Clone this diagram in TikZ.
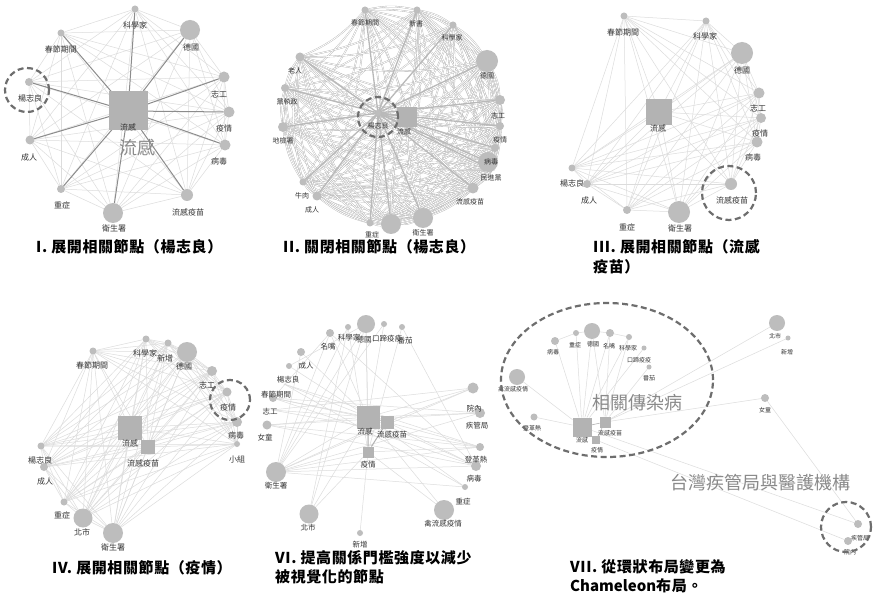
\documentclass[tikz,border=0pt]{standalone}
\usepackage{fontspec}
\newfontfamily\cjk{Noto Sans CJK TC}
\newfontfamily\cjkcap[LetterSpace=4]{Noto Sans CJK TC}
\usetikzlibrary{calc,shapes.geometric}
\pgfdeclarelayer{back}\pgfdeclarelayer{bg}\pgfsetlayers{back,bg,main}
\definecolor{dotc}{HTML}{BDBDBD}
\definecolor{sqc}{HTML}{B3B3B3}
\definecolor{litec}{HTML}{DCDCDC}
\definecolor{darkc}{HTML}{8C8C8C}
\definecolor{dashc}{HTML}{6E6E6E}
\definecolor{labc}{HTML}{333333}
\definecolor{bigc}{HTML}{8A8A8A}
\definecolor{netc}{HTML}{B0B0B0}
\tikzset{
 dot/.style={circle,fill=dotc,inner sep=0pt,outer sep=0pt},
 sqr/.style={rectangle,fill=sqc,inner sep=0pt,outer sep=0pt},
 lab/.style={text=labc,inner sep=0pt,font=\cjk\fontsize{8}{8}\selectfont},
 lite/.style={draw=litec,line width=0.5pt},
 dark/.style={draw=darkc,line width=1pt},
 net/.style={draw=netc,line width=0.35pt,double=white,double distance=0.8pt},
 heavy/.style={draw=gray!55,line width=1.3pt},
 ring/.style={draw=dashc,line width=2.2pt,dash pattern=on 6pt off 3.5pt,inner sep=0pt},
 capt/.style={anchor=west,inner sep=0pt,font=\cjkcap\bfseries\fontsize{15}{15}\selectfont},
 big/.style={text=bigc,inner sep=0pt,font=\cjk\fontsize{18}{18}\selectfont},
}
\newcommand\mkdot[7]{\node[dot,minimum size=#4pt] (#1) at (#2,#3) {};\node[lab] (#1t) at (#5,#6) {#7};}
\newcommand\mksq[7]{\node[sqr,minimum size=#4pt] (#1) at (#2,#3) {};\node[lab] (#1t) at (#5,#6) {#7};}
\begin{document}
\begin{tikzpicture}[x=1pt,y=-1pt]
\begin{pgfonlayer}{back}
\fill[white] (0,0) rectangle (876,596);
\end{pgfonlayer}
\useasboundingbox (0,0) rectangle (876,596);

% ---------------- Panel I
\mkdot{A1}{135}{9}{7}{135}{25}{科學家}
\mkdot{A2}{190}{30}{20}{191}{47}{德國}
\mkdot{A3}{224}{77}{11}{219}{94}{志工}
\mkdot{A4}{229}{112}{11}{224}{128}{疫情}
\mkdot{A5}{225}{145}{11}{219}{161}{病毒}
\mkdot{A6}{187}{195}{12}{188}{212}{流感疫苗}
\mkdot{A7}{113}{213}{20}{114}{228}{衛生署}
\mkdot{A8}{61}{189}{8}{62}{205}{重症}
\mkdot{A9}{30}{140}{9}{29}{157}{成人}
\mkdot{A10}{29}{82}{8}{30}{98}{楊志良}
\mkdot{A11}{61}{33}{7}{61}{49}{春節期間}
\mksq{A0}{128}{111}{39}{128}{127}{流感}
\node[big] (A0b) at (137,148) {流感};
\node[ring,circle,minimum size=44pt] (A10r) at (27,90) {};
\begin{pgfonlayer}{bg}
\foreach \i in {1,...,11}{\foreach \j in {1,...,11}{\ifnum\i<\j\relax \draw[lite] (A\i)--(A\j);\fi}}
\foreach \i in {1,...,11}{\draw[dark] (A0.center)--(A\i);}
\end{pgfonlayer}
\node[capt] (capI) at (36,247) {I. 展開相關節點（楊志良）};

% ---------------- Panel II
\begin{scope}[lab/.append style={font=\cjk\fontsize{7}{7}\selectfont}]
\mkdot{B1}{365}{10}{7}{365}{23}{春節期間}
\mkdot{B2}{417}{10}{7}{416}{24}{新書}
\mkdot{B3}{453}{25}{7}{452}{38}{科學家}
\mkdot{B4}{487}{61}{22}{487}{76}{德國}
\mkdot{B5}{500}{100}{10}{498}{116}{志工}
\mkdot{B6}{500}{126}{8}{500}{140}{疫情}
\mkdot{B7}{495}{148}{8}{495}{148}{}
\mkdot{B8}{488}{162}{20}{491}{162}{病毒}
\coordinate (B9) at (492,170);
\node[lab] (B9t) at (491,178) {民進黨};
\mkdot{B10}{473}{188}{11}{470}{202}{流感疫苗}
\mkdot{B11}{423}{218}{20}{423}{233}{衛生署}
\mkdot{B12}{391}{224}{20}{391}{224}{}
\mkdot{B13}{370}{223}{7}{372}{235}{重症}
\mkdot{B14}{317}{196}{9}{302}{196}{牛肉}
\mkdot{B15}{303}{182}{7}{303}{182}{}
\node[lab] (B14s) at (312,210) {成人};
\mkdot{B16}{283}{127}{10}{283}{141}{地檢署}
\mkdot{B17}{285}{88}{8}{287}{102}{黨執政}
\mkdot{B18}{300}{57}{9}{295}{71}{老人}
\mkdot{BY}{378}{113}{6}{378}{126}{楊志良}
\mksq{B0}{407}{117}{20}{404}{132}{流感}
\end{scope}
\node[ring,circle,minimum size=40pt] (BYr) at (378,117) {};
\begin{pgfonlayer}{bg}
\foreach \i in {1,...,18}{\foreach \j in {1,...,18}{\ifnum\i<\j\relax \draw[net] (B\i) to[bend left=12] (B\j);\fi}}
\foreach \i in {1,...,18}{\draw[net] (B0) to[bend right=8] (B\i);}
\foreach \i in {1,...,18}{\draw[heavy] (BY.center)--(B\i);}
\draw[heavy] (BY.center)--(B0);
\end{pgfonlayer}
\node[capt] (capII) at (283,247) {II. 關閉相關節點（楊志良）};

% ---------------- Panel III
\mkdot{C1}{624}{16}{7}{623}{32}{春節期間}
\mkdot{C2}{706}{21}{7}{705}{36}{科學家}
\mkdot{C3}{742}{53}{22}{742}{70}{德國}
\mkdot{C4}{759}{93}{11}{758}{108}{志工}
\mkdot{C5}{761}{118}{10}{760}{133}{疫情}
\mkdot{C6}{757}{142}{11}{753}{157}{病毒}
\mkdot{C7}{731}{184}{12}{732}{200}{流感疫苗}
\mkdot{C8}{679}{212}{22}{680}{228}{衛生署}
\mkdot{C9}{627}{210}{8}{627}{227}{重症}
\mkdot{C10}{572}{168}{7}{572}{183}{楊志良}
\mkdot{C11}{587}{184}{8}{589}{200}{成人}
\mksq{C12}{659}{112}{26}{658}{128}{流感}
\node[ring,circle,minimum size=54pt] (C7r) at (729,193) {};
\begin{pgfonlayer}{bg}
\foreach \i in {1,...,12}{\foreach \j in {1,...,12}{\ifnum\i<\j\relax \draw[lite] (C\i)--(C\j);\fi}}
\end{pgfonlayer}
\node[capt] (capIIIa) at (593,247) {III. 展開相關節點（流感};
\node[capt] (capIIIb) at (593,267) {疫苗）};

% ---------------- Panel IV
\mkdot{D1}{146}{339}{7}{145}{353}{科學家}
\mkdot{D2}{168}{343}{7}{165}{358}{新增}
\mkdot{D3}{187}{352}{20}{184}{366}{德國}
\mkdot{D4}{93}{351}{7}{92}{365}{春節期間}
\mkdot{D5}{212}{371}{10}{207}{385}{志工}
\mkdot{D6}{227}{392}{9}{228}{407}{疫情}
\mkdot{D7}{237}{422}{10}{236}{435}{病毒}
\mkdot{D8}{237}{444}{6}{237}{459}{小組}
\mkdot{D9}{41}{446}{7}{40}{460}{楊志良}
\mkdot{D10}{44}{467}{8}{45}{481}{成人}
\mkdot{D11}{64}{502}{7}{62}{515}{重症}
\mkdot{D12}{83}{518}{19}{82}{532}{北市}
\mkdot{D13}{113}{533}{20}{113}{547}{衛生署}
\mksq{D14}{130}{428}{24}{130}{443}{流感}
\mksq{D15}{148}{447}{14}{143}{463}{流感疫苗}
\node[ring,circle,minimum size=40pt] (D6r) at (230,400) {};
\begin{pgfonlayer}{bg}
\foreach \i in {1,...,15}{\foreach \j in {1,...,15}{\ifnum\i<\j\relax \draw[lite] (D\i)--(D\j);\fi}}
\end{pgfonlayer}
\node[capt] (capIV) at (52,568) {IV. 展開相關節點（疫情）};

% ---------------- Panel VI
\begin{scope}[lab/.append style={font=\cjk\fontsize{7.5}{7.5}\selectfont}]
\mkdot{E1}{330}{333}{8}{328}{347}{名嘴}
\mkdot{E2}{348}{327}{6}{349}{338}{科學家}
\mkdot{E3}{366}{324}{18}{364}{340}{德國}
\mkdot{E4}{384}{324}{6}{387}{339}{口蹄疫疫}
\mkdot{E5}{402}{327}{6}{405}{341}{番茄}
\mkdot{E6}{301}{352}{8}{301}{352}{}
\mkdot{E7}{289}{366}{6}{306}{366}{成人}
\coordinate (E8) at (284,384);
\node[lab] (E8t) at (288,380) {楊志良};
\mkdot{E9}{273}{398}{8}{276}{395}{春節期間}
\coordinate (E10) at (272,410);
\node[lab] (E10t) at (270,412) {志工};
\mkdot{E11}{267}{425}{9}{265}{438}{女童}
\mkdot{E12}{276}{472}{20}{276}{486}{衛生署}
\mkdot{E13}{309}{514}{19}{308}{528}{北市}
\mkdot{E14}{360}{533}{6}{360}{545}{新增}
\mkdot{E15}{444}{510}{20}{443}{524}{禽流感疫情}
\mkdot{E16}{465}{487}{6}{463}{502}{重症}
\mkdot{E17}{476}{466}{10}{474}{479}{病毒}
\mkdot{E18}{480}{447}{8}{476}{460}{登革熱}
\mkdot{E19}{480}{413}{10}{477}{426}{疾管局}
\mkdot{E20}{473}{388}{11}{474}{409}{院內}
\mksq{E0}{368}{417}{23}{365}{432}{流感}
\mksq{EV}{387}{422}{13}{392}{435}{流感疫苗}
\mksq{EE}{368}{452}{11}{368}{465}{疫情}
\end{scope}
\begin{pgfonlayer}{bg}
\foreach \a/\b in {E12/E20,E12/E19,E12/E18,E12/E17,E12/E16,E12/E0,E12/EV,E12/EE,E12/E3,E12/E2,E12/E1,
 E11/E19,E11/E18,E11/E0,E11/E17,E10/E18,E10/E0,E10/E20,E9/E19,E9/E0,E9/E17,E9/EV,
 E8/E18,E8/E0,E8/E16,E7/E0,E7/E3,E6/E0,E6/E12,E1/E0,E1/E17,E2/EE,E3/E0,E3/EE,E3/E13,
 E4/E0,E4/E12,E5/EE,E5/E17,E13/E0,E13/EE,E14/EE,E15/E0,E15/EE,E16/E0,E17/E0,E17/EV,
 E18/EE,E18/E0,E19/E0,E20/E0,E20/EV,E1/E9,E2/E13}
 {\draw[lite] (\a)--(\b);}
\draw[dark,draw=gray!60] (E0)--(EV) (E0)--(EE) (EV)--(EE);
\end{pgfonlayer}
\node[capt] (capVIa) at (275,558) {VI. 提高關係門檻強度以減少};
\node[capt] (capVIb) at (275,577) {被視覺化的節點};

% ---------------- Panel VII
\begin{scope}[lab/.append style={font=\cjk\fontsize{6}{6}\selectfont}]
\mkdot{F1}{555}{341}{8}{553}{352}{病毒}
\mkdot{F2}{576}{333}{6}{575}{345}{重症}
\mkdot{F3}{592}{331}{16}{593}{344}{德國}
\mkdot{F4}{610}{333}{8}{609}{346}{名嘴}
\mkdot{F5}{629}{337}{6}{628}{348}{科學家}
\mkdot{F6}{644}{348}{5}{639}{360}{口蹄疫疫}
\mkdot{F7}{649}{367}{5}{649}{378}{番茄}
\mkdot{F8}{517}{377}{16}{513}{389}{禽流感疫情}
\mkdot{F9}{534}{417}{7}{532}{428}{登革熱}
\mksq{F0}{582}{427}{19}{582}{440}{流感}
\mksq{FV}{605}{422}{11}{610}{433}{流感疫苗}
\mksq{FE}{596}{440}{8}{597}{450}{疫情}
\mkdot{F10}{777}{323}{16}{775}{336}{北市}
\mkdot{F11}{788}{338}{5}{787}{352}{新增}
\mkdot{F12}{765}{398}{8}{765}{410}{女童}
\mkdot{F13}{858}{524}{8}{860}{538}{疾管局}
\mkdot{F14}{848}{541}{8}{850}{552}{院內}
\end{scope}
\node[ring,ellipse,minimum width=212pt,minimum height=154pt] (FR1) at (607,380) {};
\node[ring,circle,minimum size=50pt] (FR2) at (846,527) {};
\node[big] (FL1) at (637,403) {相關傳染病};
\node[big] (FL2) at (760,483) {台灣疾管局與醫護機構};
\begin{pgfonlayer}{bg}
\foreach \a/\b in {F0/F1,F0/F2,F0/F3,F0/F4,F0/F5,F0/F6,FV/F3,FV/F4,FV/F5,FV/F7,F1/F2,F2/F3,F3/F4,F4/F5,
 F8/F0,F9/F0,FV/F10,FV/F11,FV/F12,F12/F13,F0/F13,FE/F14}
 {\draw[lite] (\a)--(\b);}
\draw[dark,draw=gray!60,line width=0.6pt] (F0)--(FV) (FE)--(FV);
\end{pgfonlayer}
\node[capt] (capVIIa) at (570,567) {VII. 從環狀布局變更為};
\node[capt] (capVIIb) at (570,586) {{\cjk Chameleon}布局。};
\end{tikzpicture}
\end{document}
